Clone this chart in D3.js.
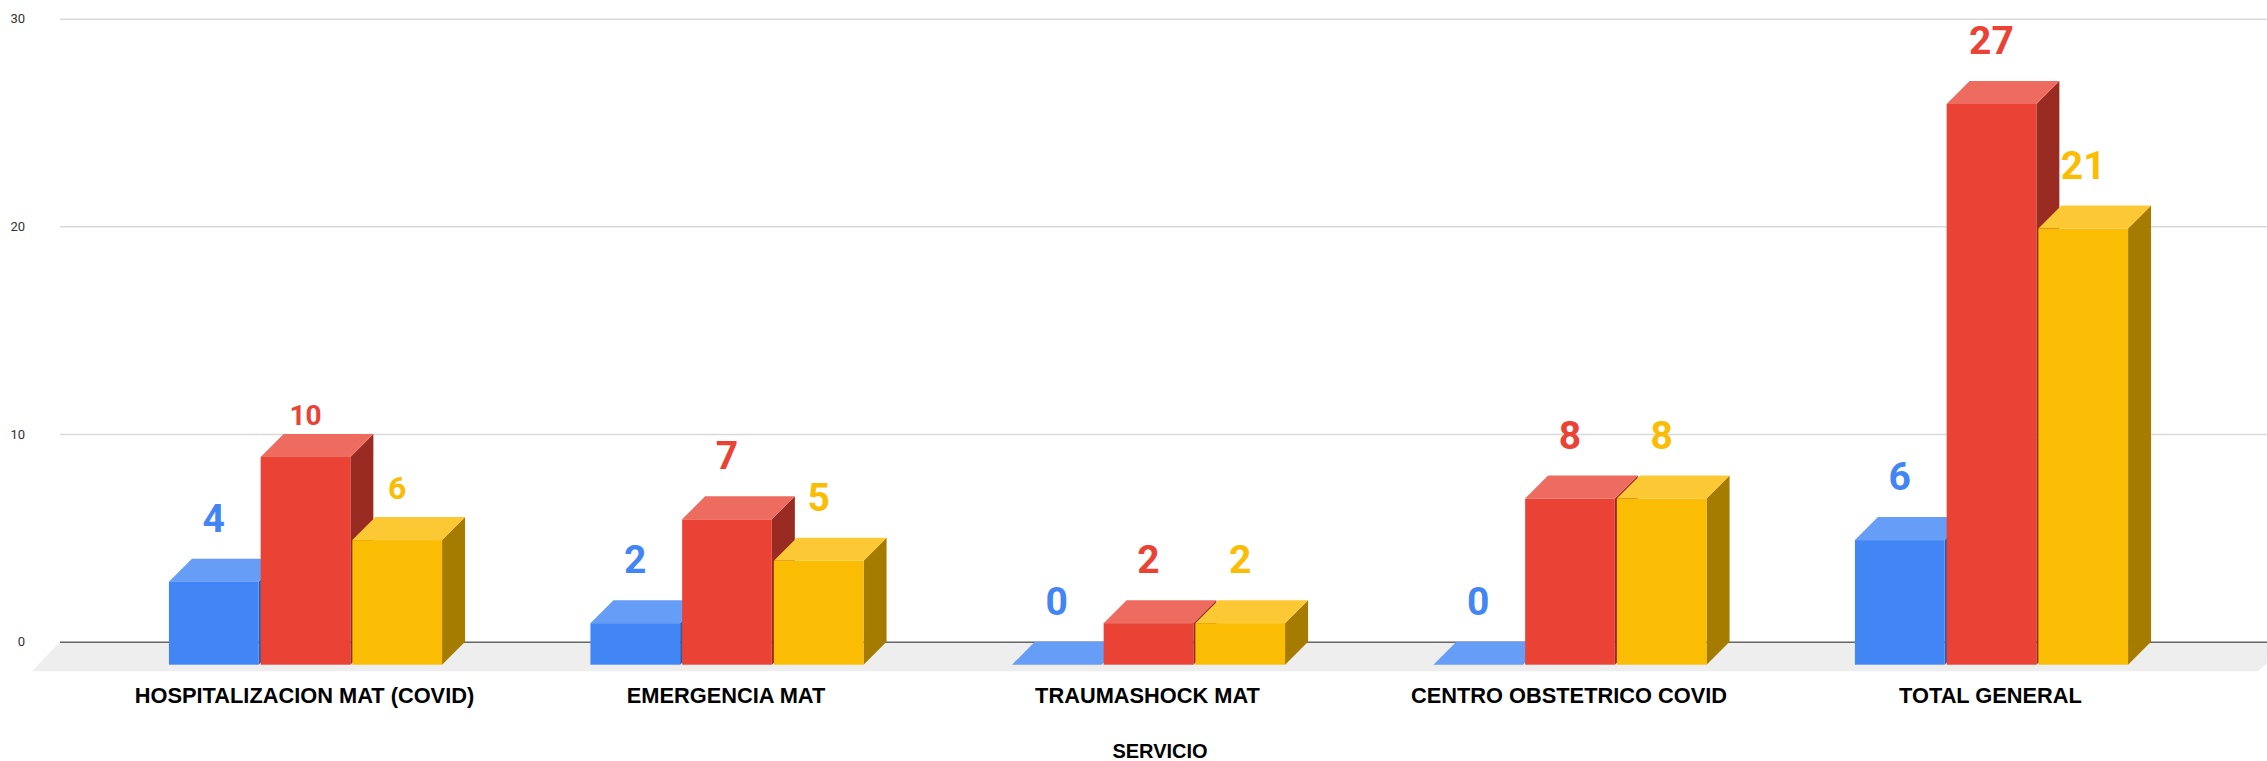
<!DOCTYPE html>
<html>
<head>
<meta charset="utf-8">
<script src="https://cdn.jsdelivr.net/npm/d3@7"></script>
<style>
  html, body { margin: 0; padding: 0; background: #fff; }
  svg { display: block; }
</style>
</head>
<body>
<div id="chart"></div>
<script>
// Data
const categories = ["HOSPITALIZACION MAT (COVID)", "EMERGENCIA MAT", "TRAUMASHOCK MAT", "CENTRO OBSTETRICO COVID", "TOTAL GENERAL"];
const seriesNames = ["a", "b", "c"];
const blueValues = [4, 2, 0, 0, 6];
const redValues = [10, 7, 2, 8, 27];
const yellowValues = [6, 5, 2, 8, 21];
const yTicks = [0, 10, 20, 30];

const width = 2267;
const height = 761;

// 3D offset between the front of a bar and its back edge
const depth = 23;

// The colours of each series: front, top, side
const colors = [
  { front: "#4285f4", top: "#669df6", side: "#2e5dab" },
  { front: "#ea4335", top: "#ee6b60", side: "#992b22" },
  { front: "#fbbc04", top: "#fcc934", side: "#a67c00" }
];

const y = d3.scaleLinear().domain([0, 30]).range([641.7, 18.7]);

const x0 = d3.scaleBand()
  .domain(categories)
  .range([94.75, 2202.25])
  .paddingInner(0.352)
  .paddingOuter(0.176);

const x1 = d3.scaleBand()
  .domain(seriesNames)
  .range([0, x0.bandwidth()])
  .paddingInner(0.022);

const svg = d3.select("#chart").append("svg")
  .attr("width", width)
  .attr("height", height)
  .style("font-family", "'Liberation Sans', Arial, sans-serif");

// Floor
const floorY = y(0) + 29.5;
svg.append("polygon")
  .attr("points", [[60, y(0)], [2290, y(0)], [2258, floorY], [32, floorY]].join(" "))
  .attr("fill", "#eeeeee");

// Y axis with the gridlines
const yAxis = d3.axisLeft(y)
  .tickValues(yTicks)
  .tickSize(-(width - 60))
  .tickPadding(35);

const axisG = svg.append("g")
  .attr("transform", "translate(60,0)")
  .call(yAxis);

axisG.select(".domain").remove();
axisG.selectAll(".tick line")
  .attr("stroke", d => d === 0 ? "#666666" : "#d9d9d9")
  .attr("stroke-width", 1.5);
axisG.selectAll(".tick text")
  .attr("fill", "#333333")
  .style("font-family", "Roboto, sans-serif")
  .style("font-size", "13px");

// Bars
const allValues = [blueValues, redValues, yellowValues];

allValues.forEach((values, s) => {
  const barW = x1.bandwidth();
  const g = svg.append("g");

  const bars = g.selectAll("g")
    .data(values)
    .enter()
    .append("g")
    .attr("transform", (d, i) => `translate(${x0(categories[i]) + x1(seriesNames[s])},0)`);

  // right side
  bars.append("polygon")
    .attr("fill", colors[s].side)
    .attr("points", d => {
      const t = y(d) + depth;
      const b = y(0) + depth;
      return [[barW, t], [barW + depth, t - depth], [barW + depth, b - depth], [barW, b]].join(" ");
    });

  // top
  bars.append("polygon")
    .attr("fill", colors[s].top)
    .attr("points", d => {
      const t = y(d) + depth;
      return [[0, t], [depth, t - depth], [barW + depth, t - depth], [barW, t]].join(" ");
    });

  // front
  bars.append("rect")
    .attr("fill", colors[s].front)
    .attr("y", d => y(d) + depth)
    .attr("width", barW)
    .attr("height", d => y(0) - y(d));
});

// Value labels go last so the bars never cover them
allValues.forEach((values, s) => {
  svg.append("g").selectAll("text")
    .data(values)
    .enter()
    .append("text")
    .attr("x", (d, i) => x0(categories[i]) + x1(seriesNames[s]) + x1.bandwidth() / 2)
    // the 10 and the 6 of the first group are smaller and sit closer to the bar
    .attr("y", (d, i) => {
      if (i === 0 && s === 1) return y(d) - 19;
      if (i === 0 && s === 2) return y(d) - 30;
      return y(d) - 41;
    })
    .attr("dy", "0.36em")
    .attr("text-anchor", "middle")
    .attr("fill", colors[s].front)
    .style("font-family", "Roboto, sans-serif")
    .style("font-weight", 700)
    .style("font-size", (d, i) => {
      if (i === 0 && s === 1) return "28px";
      if (i === 0 && s === 2) return "32px";
      return "39px";
    })
    .text(d => d);
});

// Category labels
svg.append("g").selectAll("text")
  .data(categories)
  .enter()
  .append("text")
  .attr("x", d => x0(d) + x0.bandwidth() / 2 - 1)
  .attr("y", 695)
  .attr("dy", "0.36em")
  .attr("text-anchor", "middle")
  .attr("fill", "#000000")
  .style("font-weight", "bold")
  .style("font-size", "21.8px")
  .text(d => d);

// Axis title
svg.append("text")
  .attr("x", 1160)
  .attr("y", 751)
  .attr("dy", "0.36em")
  .attr("text-anchor", "middle")
  .attr("fill", "#000000")
  .style("font-weight", "bold")
  .style("font-size", "20px")
  .text("SERVICIO");
</script>
</body>
</html>
